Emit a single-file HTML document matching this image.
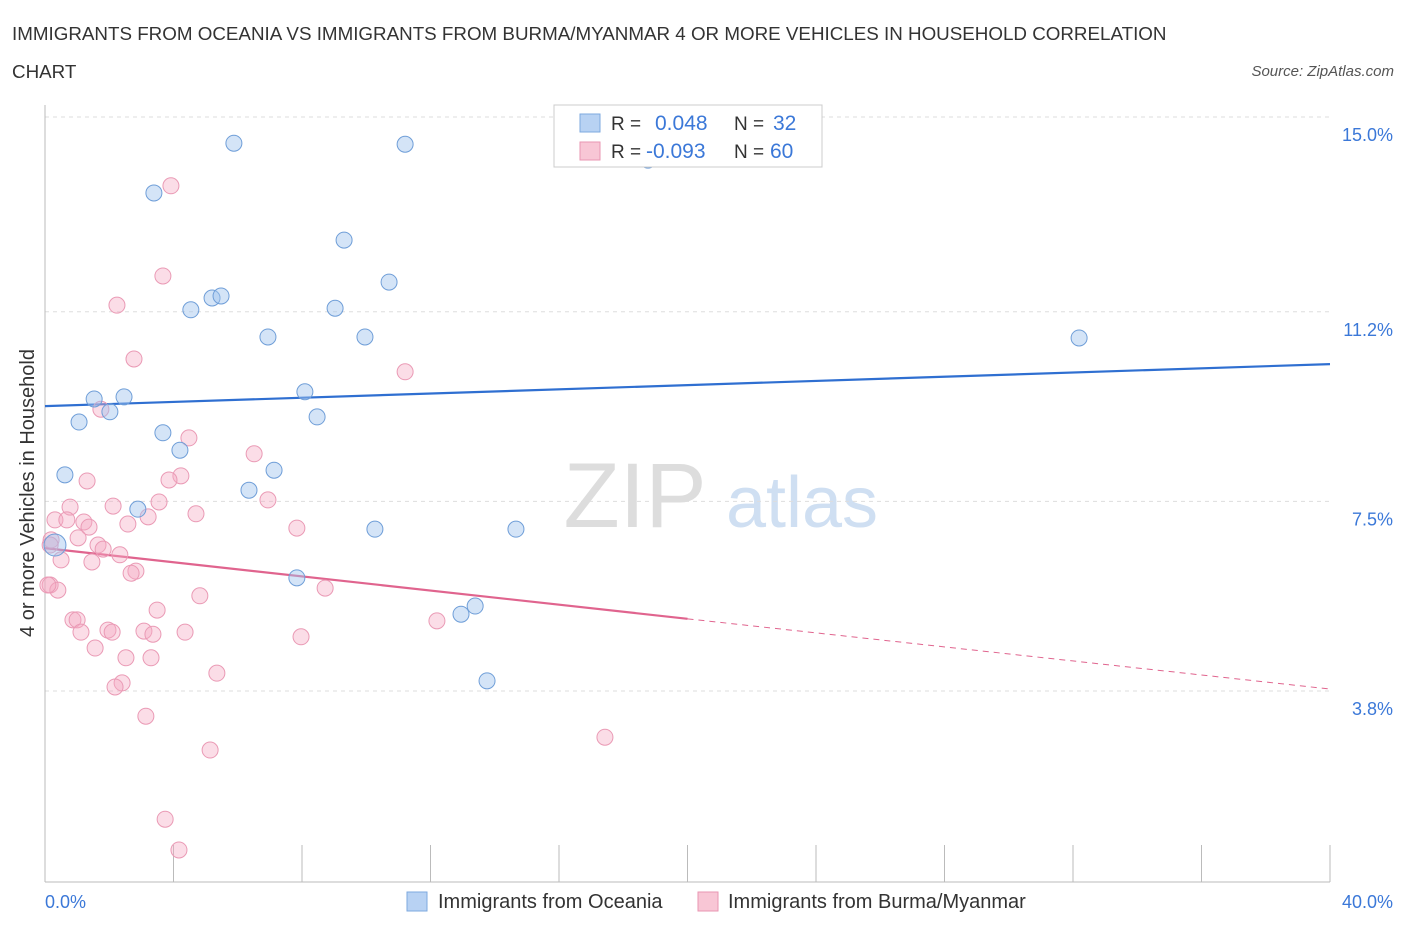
<!DOCTYPE html>
<html><head><meta charset="utf-8"><style>
body{margin:0;background:#fff;font-family:"Liberation Sans",sans-serif;}
svg text{font-family:"Liberation Sans",sans-serif;}
</style></head><body>
<svg id="chart" width="1406" height="930" viewBox="0 0 1406 930" xmlns="http://www.w3.org/2000/svg">
<text x="12" y="40" font-size="18.8" fill="#333">IMMIGRANTS FROM OCEANIA VS IMMIGRANTS FROM BURMA/MYANMAR 4 OR MORE VEHICLES IN HOUSEHOLD CORRELATION</text>
<text x="12" y="78" font-size="18.8" fill="#333">CHART</text>
<text x="1394" y="76" font-size="15" fill="#555" font-style="italic" text-anchor="end">Source: ZipAtlas.com</text>
<g>
<text x="635" y="527" font-size="92" fill="#ddd" font-family="Liberation Serif" text-anchor="middle">ZIP</text>
<text x="802" y="527" font-size="72" fill="#cfdff2" text-anchor="middle">atlas</text>
</g>
<g id="grid"></g>
<line x1="45" y1="882" x2="1330" y2="882" stroke="#bbb"/>
<line x1="45" y1="105" x2="45" y2="882" stroke="#bbb"/>
<g id="ticks"></g>
<g id="lines"></g>
<g id="points"></g>
<text transform="translate(34,493) rotate(-90)" font-size="20" fill="#333" text-anchor="middle">4 or more Vehicles in Household</text>
<text x="45" y="908" font-size="18" fill="#3b78d8">0.0%</text>
<text x="1393" y="908" font-size="18" fill="#3b78d8" text-anchor="end">40.0%</text>
<g>
<rect x="554" y="105" width="268" height="62" fill="#fff" stroke="#ccc"/>
<rect x="580" y="114" width="20" height="18" fill="#b8d2f3" stroke="#7ea9df"/>
<rect x="580" y="142" width="20" height="18" fill="#f8c6d5" stroke="#e996b2"/>
<text x="611" y="130" font-size="19" fill="#333">R =</text><text x="655" y="130" font-size="21" fill="#3b78d8">0.048</text>
<text x="734" y="130" font-size="19" fill="#333">N =</text><text x="773" y="130" font-size="21" fill="#3b78d8">32</text>
<text x="611" y="158" font-size="19" fill="#333">R =</text><text x="646" y="158" font-size="21" fill="#3b78d8">-0.093</text>
<text x="734" y="158" font-size="19" fill="#333">N =</text><text x="770" y="158" font-size="21" fill="#3b78d8">60</text>
</g>
<g>
<rect x="407" y="892" width="20" height="19" fill="#b8d2f3" stroke="#7ea9df"/>
<text x="438" y="908" font-size="20" fill="#333">Immigrants from Oceania</text>
<rect x="698" y="892" width="20" height="19" fill="#f8c6d5" stroke="#e996b2"/>
<text x="728" y="908" font-size="20" fill="#333">Immigrants from Burma/Myanmar</text>
</g>
</svg>
<script>
const yTicks=[15.0,11.2,7.5,3.8];
const yTickLabels=["15.0%","11.2%","7.5%","3.8%"];
const xTicks=[0,4,8,12,16,20,24,28,32,36,40];
const oceaniaX=[5.88,11.21,3.39,18.77,9.31,10.71,4.54,5.20,5.48,9.03,6.94,9.96,32.19,1.53,2.46,8.09,2.02,1.06,8.47,3.67,4.20,0.62,7.13,6.35,2.89,10.27,14.66,0.31,7.84,12.95,13.39,13.76];
const oceaniaY=[14.82,14.80,13.85,14.49,12.93,12.11,11.57,11.80,11.84,11.60,11.04,11.04,11.02,9.83,9.87,9.97,9.58,9.38,9.48,9.17,8.83,8.35,8.44,8.05,7.68,7.29,7.29,6.98,6.34,5.63,5.79,4.33];
const burmaX=[3.92,3.67,2.24,2.77,11.21,1.74,4.48,6.51,4.23,3.86,1.31,6.94,3.55,2.12,0.78,4.70,3.21,0.31,0.68,1.21,2.58,1.37,7.84,1.03,0.19,1.65,1.81,2.33,0.50,1.46,2.83,2.68,0.16,0.40,8.72,4.82,3.49,0.87,1.00,12.20,1.12,1.96,2.09,3.08,3.36,4.36,7.97,1.56,2.52,3.30,5.35,2.40,2.18,3.14,5.14,17.43,3.74,4.17,0.16,0.09];
const burmaY=[13.99,12.23,11.66,10.61,10.36,9.63,9.07,8.76,8.33,8.25,8.23,7.86,7.82,7.74,7.72,7.59,7.53,7.47,7.47,7.43,7.39,7.33,7.31,7.12,7.08,6.98,6.90,6.79,6.69,6.65,6.47,6.43,6.20,6.10,6.14,5.99,5.71,5.52,5.52,5.50,5.28,5.32,5.28,5.30,5.24,5.28,5.19,4.97,4.78,4.78,4.48,4.29,4.21,3.64,2.98,3.23,1.63,1.03,6.98,6.20];
const oceaniaTrend=[9.69,10.51];
const burmaTrend=[6.92,5.54,4.17];
const NS="http://www.w3.org/2000/svg";
const xS=v=>45+v*32.125;
const yS=v=>134+(15-v)*51.25;
function mk(tag,attrs,parent){const e=document.createElementNS(NS,tag);for(const k in attrs)e.setAttribute(k,attrs[k]);document.getElementById(parent).appendChild(e);return e;}
yTicks.forEach((t,i)=>{
 const g=mk('line',{x1:45,x2:1330,y1:yS(t)-17,y2:yS(t)-17,stroke:'#ddd','stroke-dasharray':'4,4'},'grid');
 
 
 const l=mk('text',{x:1393,y:yS(t)+7,'font-size':18,fill:'#3b78d8','text-anchor':'end'},'grid');
 l.textContent=yTickLabels[i];
 
 
});
xTicks.forEach(t=>{
 const e=mk('line',{x1:xS(t),x2:xS(t),y1:845,y2:882,stroke:'#bbb'},'ticks');
 
 
});
let e=mk('line',{x1:xS(0),y1:yS(oceaniaTrend[0]),x2:xS(40),y2:yS(oceaniaTrend[1]),stroke:'#2f6fd1','stroke-width':2.2},'lines');


e=mk('line',{x1:xS(0),y1:yS(burmaTrend[0]),x2:xS(20),y2:yS(burmaTrend[1]),stroke:'#e0648e','stroke-width':2.2},'lines');


e=mk('line',{x1:xS(20),y1:yS(burmaTrend[1]),x2:xS(40),y2:yS(burmaTrend[2]),stroke:'#e0648e','stroke-width':1,'stroke-dasharray':'6,5'},'lines');


burmaX.forEach((x,i)=>{
 const c=mk('circle',{cx:xS(x),cy:yS(burmaY[i]),r:8,fill:'rgba(244,170,195,0.4)',stroke:'#ea9ab5','stroke-width':1},'points');
 
 
});
oceaniaX.forEach((x,i)=>{
 const c=mk('circle',{cx:xS(x),cy:yS(oceaniaY[i]),r:i==27?11:8,fill:'rgba(160,195,238,0.45)',stroke:'#6f9ed8','stroke-width':1},'points');
 
 
});
</script>
</body></html>
